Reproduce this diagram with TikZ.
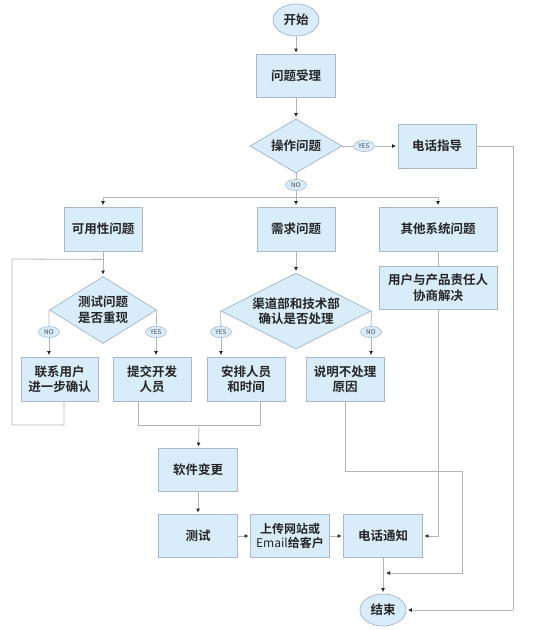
\documentclass[tikz,border=0pt]{standalone}
\usepackage{fontspec}
\setmainfont{Noto Sans CJK SC}[BoldFont={* Bold}]
\usepackage{xcolor}
\usepackage{tikz}
\usetikzlibrary{arrows.meta,positioning,calc,shapes.geometric}

\definecolor{boxfill}{HTML}{D8ECF9}
\definecolor{boxline}{HTML}{A9B9C8}
\definecolor{wire}{HTML}{B4B4B4}
\definecolor{ink}{HTML}{262626}

\begin{document}
\begin{tikzpicture}[
    x=1pt, y=-1pt,
    font=\fontsize{12.5}{15.5}\selectfont\bfseries, text=ink,
    % process boxes
    proc/.style={draw=boxline, fill=boxfill, line width=0.8pt, inner sep=0pt,
      minimum width=78pt, minimum height=44pt, align=center},
    % start / end
    term/.style={ellipse, draw=boxline, fill=boxfill, line width=0.8pt,
      inner sep=0pt, minimum width=46pt, minimum height=32pt},
    % decisions
    decide/.style={diamond, draw=boxline, fill=boxfill, line width=0.8pt,
      inner sep=0pt, align=center},
    % small YES / NO tags on the wires
    tag/.style={ellipse, draw=boxline, fill=boxfill, line width=0.6pt, inner sep=0pt,
      minimum width=21pt, minimum height=11pt,
      font=\fontsize{6.5}{7}\selectfont, text=black!70},
    wire/.style={draw=wire, line width=0.8pt},
    flow/.style={wire, -{Latex[length=4pt,width=4pt,color=ink]}, shorten >=1.5pt},
  ]
  \useasboundingbox (0,0) rectangle (542,630);

  \node[term] (start) at (296,20) {开始};
  \node[proc, minimum width=79pt, minimum height=43pt] (accept) at (296,76) {问题受理};
  \node[decide, minimum width=92pt, minimum height=54pt, aspect=1.7] (opq) at (296,146) {操作问题};
  \node[proc] (guide) at (437,146) {电话指导};

  \node[proc] (usab) at (103,229) {可用性问题};
  \node[proc] (req) at (296,229) {需求问题};
  \node[proc, minimum width=118pt] (other) at (438,229) {其他系统问题};

  \node[decide, minimum width=107pt, minimum height=67pt, aspect=1.6] (testq) at (103,310) {测试问题\\是否重现};
  \node[decide, minimum width=150pt, minimum height=76pt, aspect=2] (chanq) at (296,311) {渠道部和技术部\\确认是否处理};
  \node[proc, minimum width=118pt, minimum height=43pt] (negot) at (438,287.5) {用户与产品责任人\\协商解决};

  \node[proc, minimum width=77pt] (contact) at (59.5,379) {联系用户\\进一步确认};
  \node[proc] (submit) at (152,379) {提交开发\\人员};
  \node[proc] (arrange) at (246,379) {安排人员\\和时间};
  \node[proc] (explain) at (345,379) {说明不处理\\原因};

  \node[proc, minimum width=79pt, minimum height=43pt] (change) at (198,470) {软件变更};
  \node[proc, minimum width=79pt, minimum height=43pt] (test) at (198,536) {测试};
  \node[proc, minimum width=79pt, minimum height=43pt, font=\fontsize{12}{14}\selectfont\bfseries] (upload) at (290,536) {上传网站或\\\mdseries Email\bfseries 给客户};
  \node[proc, minimum width=79pt, minimum height=43pt] (notify) at (383,536) {电话通知};
  \node[term] (end) at (383,610) {结束};

  % tags
  \node[tag] (yes1) at (364,146) {YES};
  \node[tag] (no1) at (296,185) {NO};
  \node[tag] (no2) at (49,332) {NO};
  \node[tag] (yes2) at (156,332) {YES};
  \node[tag] (yes3) at (221,332) {YES};
  \node[tag] (no3) at (371,332) {NO};

  % corner points
  \coordinate (split) at (296,197);
  \coordinate (rtop) at (513,146);
  \coordinate (rbot) at (513,610);
  \coordinate (lpa) at (12,425);
  \coordinate (lpb) at (12,259);
  \coordinate (merge) at (199,425);
  \coordinate (exa) at (462,471);
  \coordinate (join) at (383,573);

  \draw[flow] (start) -- (accept);
  \draw[flow] (accept) -- (opq);
  \draw[wire] (opq) -- (yes1);
  \draw[flow] (yes1) -- (guide);
  \draw[wire] (opq) -- (no1) -- (split);
  \draw[flow] (split) -| (usab);
  \draw[flow] (split) -- (req);
  \draw[flow] (split) -| (other);
  \draw[wire] (guide) -- (rtop) -- (rbot);
  \draw[flow] (rbot) -- (end);

  % usability branch
  \draw[flow] (usab) -- (testq);
  \draw[wire] ([xshift=4.5pt]contact.south) |- (lpa) -- (lpb) -- ($(usab.south)+(0,8)$);
  \draw[wire] (testq.west) -- (no2);
  \draw[flow] (no2) -- (no2 |- contact.north);
  \draw[wire] (testq.east) -- (yes2);
  \draw[flow] (yes2) -- (yes2 |- submit.north);

  % requirement branch
  \draw[flow] (req) -- (chanq);
  \draw[wire] (chanq.west) -- (yes3);
  \draw[flow] (yes3) -- (yes3 |- arrange.north);
  \draw[wire] (chanq.east) -- (no3);
  \draw[flow] (no3) -- (no3 |- explain.north);

  % other branch
  \draw[wire] (other) -- (negot);
  \draw[flow] (negot.south) |- (notify.east);

  % change and release
  \draw[wire] ([xshift=-14pt]submit.south) |- (merge);
  \draw[wire] ([xshift=14pt]arrange.south) |- (merge);
  \draw[flow] (merge) -- (change);
  \draw[flow] (change) -- (test);
  \draw[flow] (test) -- (upload);
  \draw[flow] (upload) -- (notify);
  \draw[flow] (notify) -- (end);
  \draw[flow, shorten >=3pt] (explain.south) |- (exa) |- (join);
\end{tikzpicture}
\end{document}
